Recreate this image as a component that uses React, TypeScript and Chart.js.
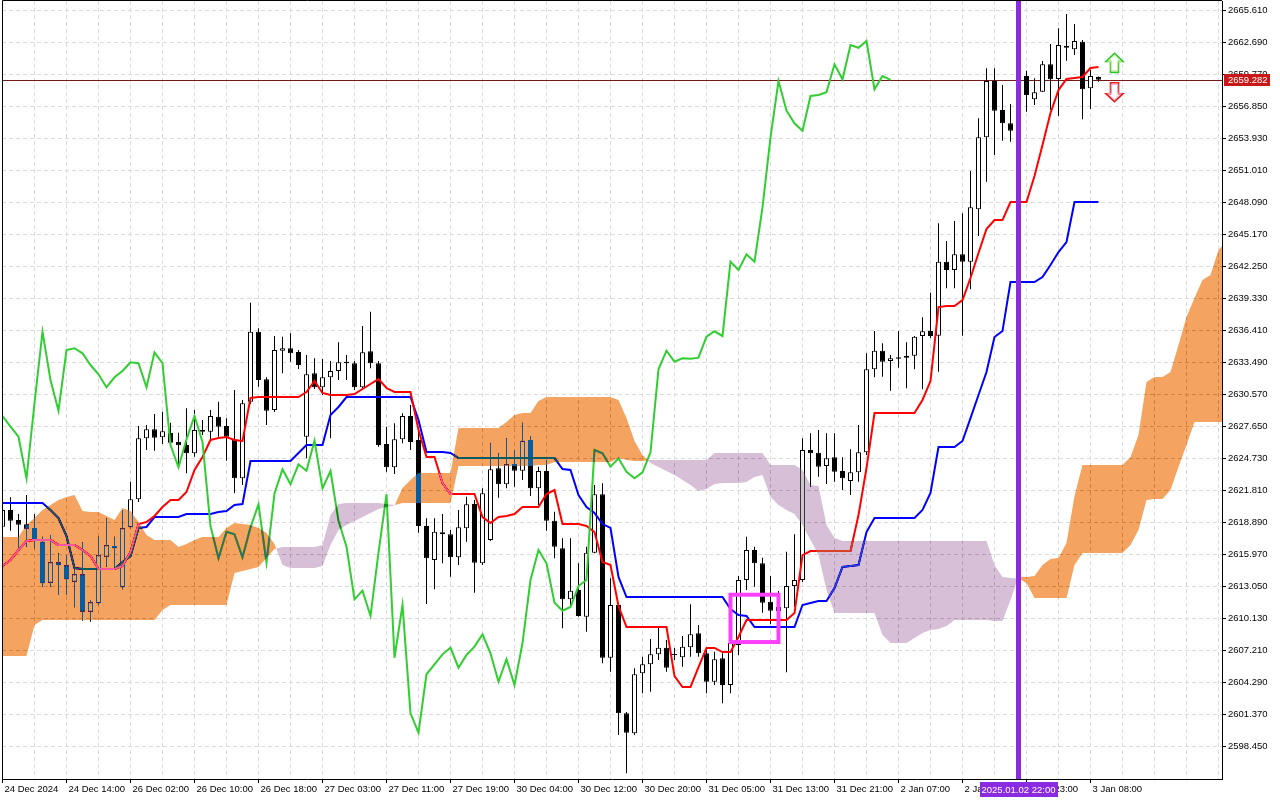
import React, { useEffect, useRef } from "react";
import { Chart, registerables } from "chart.js";

Chart.register(...registerables);

const FONT_FAMILY = '"Liberation Sans", Arial, sans-serif';
const FONT_SIZE = 9.5;

// ---- time axis labels (one every 8 bars) ----
const timeLabels = [
  "24 Dec 2024", "24 Dec 14:00", "26 Dec 02:00", "26 Dec 10:00", "26 Dec 18:00", "27 Dec 03:00",
  "27 Dec 11:00", "27 Dec 19:00", "30 Dec 04:00", "30 Dec 12:00", "30 Dec 20:00", "31 Dec 05:00",
  "31 Dec 13:00", "31 Dec 21:00", "2 Jan 07:00", "2 Jan 15:00", "2 Jan 23:00", "3 Jan 08:00",
];

// ---- price axis labels ----
const priceTicks = [
  2598.45, 2601.37, 2604.29, 2607.21, 2610.13, 2613.05, 2615.97, 2618.89, 2621.81, 2624.73, 2627.65, 2630.57,
  2633.49, 2636.41, 2639.33, 2642.25, 2645.17, 2648.09, 2651.01, 2653.93, 2656.85, 2659.77, 2662.69, 2665.61,
];

// ---- candles (H1) ----
const opens = [
  2618.51, 2620.03, 2619.12, 2618.72, 2618.39, 2617.14, 2613.40, 2615.26, 2614.98, 2613.49,
  2614.16, 2610.75, 2611.52, 2615.77, 2616.74, 2612.98, 2618.45, 2621.01, 2626.57, 2627.39,
  2626.66, 2627.08, 2626.23, 2625.96, 2625.20, 2627.33, 2627.17, 2628.54, 2627.69, 2626.48,
  2622.92, 2629.91, 2636.30, 2631.96, 2629.15, 2634.57, 2634.79, 2634.45, 2626.72, 2632.50,
  2631.23, 2632.14, 2632.71, 2633.56, 2633.42, 2631.23, 2634.51, 2633.42, 2626.05, 2623.93,
  2626.48, 2628.61, 2626.42, 2618.57, 2615.47, 2617.99, 2617.81, 2615.71, 2618.36, 2620.58,
  2615.17, 2617.29, 2623.83, 2622.38, 2624.23, 2623.62, 2626.42, 2622.01, 2623.59, 2619.05,
  2616.53, 2611.88, 2612.73, 2610.29, 2616.13, 2621.46, 2606.55, 2611.36, 2601.48, 2599.65,
  2605.13, 2605.95, 2606.86, 2607.46, 2606.89, 2606.59, 2607.50, 2608.78, 2606.95, 2604.36,
  2606.50, 2604.06, 2607.71, 2613.64, 2616.38, 2615.17, 2611.66, 2610.81, 2611.06, 2613.09,
  2613.64, 2625.50, 2625.26, 2624.04, 2624.84, 2623.59, 2622.68, 2623.47, 2625.30, 2632.87,
  2634.57, 2633.63, 2633.96, 2634.08, 2634.11, 2635.91, 2636.36, 2635.93, 2642.69, 2641.93,
  2643.36, 2642.69, 2647.47, 2654.04, 2659.18, 2656.53, 2655.32, 2654.70, 2659.63, 2657.51,
  2658.20, 2660.70, 2659.36, 2662.37, 2662.07, 2662.76, 2658.51, 2659.54,
];
const highs = [
  2620.94, 2621.19, 2619.66, 2621.40, 2619.66, 2617.59, 2617.75, 2616.08, 2615.92, 2614.92,
  2617.08, 2611.82, 2617.59, 2619.27, 2617.59, 2620.03, 2622.61, 2627.69, 2627.79, 2628.79,
  2629.00, 2628.00, 2627.08, 2629.31, 2629.15, 2628.24, 2629.15, 2629.91, 2628.40, 2630.98,
  2630.07, 2638.95, 2636.61, 2632.14, 2635.91, 2635.84, 2636.15, 2634.63, 2634.17, 2633.87,
  2633.81, 2633.63, 2635.33, 2634.17, 2633.63, 2636.82, 2638.12, 2633.63, 2627.63, 2627.94,
  2628.85, 2629.61, 2627.17, 2619.27, 2619.27, 2619.66, 2618.20, 2620.03, 2621.24, 2620.94,
  2622.01, 2626.12, 2625.20, 2626.57, 2625.50, 2628.00, 2626.78, 2623.98, 2624.59, 2619.87,
  2617.45, 2617.45, 2615.17, 2616.68, 2622.31, 2622.47, 2613.80, 2611.52, 2601.60, 2605.59,
  2606.64, 2608.26, 2609.38, 2608.17, 2607.44, 2608.53, 2611.43, 2609.54, 2607.25, 2607.10,
  2606.95, 2608.01, 2614.01, 2617.59, 2616.68, 2615.68, 2614.01, 2612.64, 2616.22, 2617.81,
  2626.57, 2627.03, 2627.33, 2627.03, 2627.03, 2624.84, 2625.57, 2627.79, 2634.33, 2636.36,
  2635.24, 2634.17, 2636.36, 2635.33, 2635.91, 2637.61, 2639.86, 2646.19, 2644.58, 2646.40,
  2647.10, 2650.96, 2655.77, 2660.33, 2660.33, 2658.81, 2657.08, 2658.17, 2660.12, 2659.42,
  2661.00, 2662.55, 2663.98, 2665.29, 2664.38, 2662.92, 2660.18, 2659.59,
];
const lows = [
  2617.93, 2618.14, 2616.22, 2616.68, 2616.53, 2613.03, 2613.03, 2612.27, 2612.27, 2611.15,
  2609.93, 2609.84, 2611.36, 2614.86, 2614.71, 2612.79, 2618.36, 2620.76, 2625.50, 2625.44,
  2626.05, 2626.05, 2623.93, 2623.38, 2624.89, 2626.87, 2626.42, 2626.72, 2624.53, 2621.55,
  2622.31, 2629.70, 2631.28, 2627.79, 2628.97, 2632.50, 2633.56, 2632.90, 2624.75, 2631.07,
  2630.52, 2626.57, 2631.89, 2631.89, 2630.98, 2630.98, 2632.96, 2625.81, 2623.52, 2623.31,
  2626.12, 2625.50, 2617.96, 2611.45, 2612.79, 2615.17, 2613.94, 2615.01, 2617.14, 2612.48,
  2615.01, 2617.20, 2621.15, 2622.01, 2622.16, 2622.77, 2621.31, 2620.49, 2618.14, 2615.62,
  2609.23, 2611.21, 2610.29, 2608.92, 2616.08, 2606.04, 2605.27, 2599.50, 2596.00, 2599.50,
  2603.30, 2603.45, 2606.34, 2605.27, 2606.34, 2605.73, 2606.64, 2606.64, 2603.30, 2604.06,
  2602.39, 2603.30, 2606.80, 2612.73, 2613.03, 2610.66, 2609.63, 2610.45, 2605.22, 2611.21,
  2613.46, 2622.16, 2623.07, 2622.40, 2622.61, 2621.85, 2621.40, 2622.61, 2625.05, 2632.14,
  2632.19, 2630.92, 2633.01, 2631.13, 2632.87, 2631.04, 2635.72, 2632.65, 2640.26, 2640.26,
  2635.93, 2640.17, 2645.03, 2649.99, 2652.42, 2653.73, 2653.64, 2653.79, 2656.37, 2656.99,
  2658.17, 2656.53, 2655.98, 2661.03, 2661.55, 2655.68, 2656.62, 2659.11,
];
const closes = [
  2620.03, 2619.05, 2618.69, 2618.32, 2617.29, 2613.34, 2615.26, 2614.98, 2613.71, 2614.16,
  2610.75, 2611.61, 2615.90, 2616.81, 2616.53, 2618.36, 2621.01, 2626.57, 2627.39, 2626.63,
  2627.21, 2626.17, 2625.93, 2625.20, 2627.33, 2627.17, 2628.61, 2627.63, 2626.72, 2622.92,
  2629.77, 2636.30, 2631.89, 2629.09, 2634.63, 2634.79, 2634.33, 2633.26, 2632.41, 2631.23,
  2632.14, 2632.71, 2633.51, 2633.42, 2631.23, 2634.42, 2633.42, 2625.96, 2623.93, 2626.48,
  2628.61, 2626.23, 2618.57, 2615.62, 2618.05, 2617.81, 2615.71, 2618.45, 2620.55, 2615.22,
  2621.55, 2623.74, 2622.38, 2624.20, 2623.62, 2626.35, 2622.01, 2623.59, 2619.05, 2616.68,
  2611.88, 2612.67, 2610.36, 2616.13, 2621.46, 2606.55, 2611.36, 2601.48, 2599.71, 2605.04,
  2605.95, 2606.86, 2607.46, 2605.64, 2606.80, 2607.56, 2608.69, 2606.95, 2604.36, 2606.41,
  2604.06, 2607.89, 2613.64, 2616.38, 2615.17, 2611.57, 2610.84, 2611.18, 2613.09, 2613.64,
  2625.50, 2625.20, 2623.98, 2624.75, 2623.52, 2622.92, 2623.47, 2625.30, 2632.87, 2634.57,
  2633.56, 2633.87, 2633.84, 2633.93, 2635.84, 2636.34, 2635.91, 2642.69, 2641.93, 2643.36,
  2642.69, 2647.65, 2654.04, 2659.18, 2656.47, 2655.32, 2654.64, 2657.81, 2657.90, 2658.15,
  2660.70, 2659.33, 2662.46, 2662.21, 2662.83, 2658.42, 2659.63, 2659.28,
];

// ---- Ichimoku lines ----
const tenkan = [
  2614.92, 2615.47, 2616.38, 2617.20, 2617.29, 2617.29, 2617.29, 2616.84, 2616.84, 2616.84,
  2616.38, 2615.83, 2614.65, 2614.65, 2614.65, 2614.92, 2616.20, 2618.75, 2618.93, 2619.48,
  2620.30, 2620.94, 2620.94, 2621.67, 2623.68, 2624.87, 2626.42, 2626.60, 2626.69, 2626.42,
  2626.33, 2630.25, 2630.34, 2630.34, 2630.34, 2630.34, 2630.34, 2630.34, 2630.80, 2631.80,
  2630.71, 2630.52, 2630.52, 2630.52, 2630.61, 2631.07, 2631.53, 2631.98, 2631.16, 2630.80,
  2630.80, 2630.80, 2627.33, 2624.87, 2624.87, 2622.49, 2621.49, 2621.49, 2621.49, 2621.49,
  2619.39, 2618.84, 2619.39, 2619.48, 2619.66, 2620.30, 2620.30, 2620.30, 2621.49, 2621.85,
  2618.75, 2618.75, 2618.75, 2618.57, 2618.02, 2615.28, 2615.01, 2611.27, 2609.35, 2609.35,
  2609.35, 2609.35, 2609.35, 2609.35, 2604.88, 2603.88, 2603.88, 2605.70, 2607.44, 2607.44,
  2607.07, 2607.07, 2608.44, 2609.99, 2609.99, 2609.99, 2609.99, 2609.99, 2609.99, 2610.63,
  2615.92, 2616.29, 2616.29, 2616.29, 2616.29, 2616.29, 2616.29, 2619.57, 2623.86, 2628.88,
  2628.88, 2628.88, 2628.88, 2628.88, 2628.88, 2630.07, 2631.80, 2638.55, 2638.64, 2638.64,
  2639.19, 2641.20, 2643.48, 2645.67, 2646.49, 2646.49, 2648.13, 2648.13, 2648.13, 2650.51,
  2653.34, 2656.26, 2658.35, 2659.36, 2659.45, 2659.54, 2660.36, 2660.45,
];
const kijun = [
  2620.67, 2620.67, 2620.67, 2620.67, 2620.67, 2620.67, 2620.03, 2619.30, 2617.66, 2614.74,
  2614.65, 2614.65, 2614.65, 2614.65, 2614.65, 2615.28, 2615.83, 2618.39, 2618.48, 2619.39,
  2619.39, 2619.39, 2619.39, 2619.66, 2619.66, 2619.66, 2619.66, 2619.85, 2619.94, 2620.49,
  2620.58, 2624.50, 2624.50, 2624.50, 2624.50, 2624.50, 2624.50, 2625.23, 2625.96, 2625.96,
  2625.96, 2628.70, 2629.43, 2630.34, 2630.34, 2630.34, 2630.34, 2630.34, 2630.34, 2630.34,
  2630.34, 2630.34, 2628.24, 2625.32, 2625.32, 2625.32, 2625.23, 2624.77, 2624.77, 2624.77,
  2624.77, 2624.77, 2624.77, 2624.77, 2624.77, 2624.77, 2624.77, 2624.77, 2624.77, 2624.77,
  2623.77, 2623.68, 2621.40, 2620.30, 2619.76, 2618.75, 2618.39, 2613.92, 2612.09, 2612.09,
  2612.09, 2612.09, 2612.09, 2612.09, 2612.09, 2612.09, 2612.09, 2612.09, 2612.09, 2612.09,
  2612.09, 2611.00, 2610.45, 2610.36, 2609.35, 2609.35, 2609.35, 2609.35, 2609.35, 2609.35,
  2611.36, 2611.54, 2611.73, 2611.73, 2612.91, 2614.83, 2614.92, 2615.01, 2618.02, 2619.30,
  2619.30, 2619.30, 2619.30, 2619.30, 2619.30, 2620.03, 2621.58, 2625.78, 2625.78, 2625.78,
  2626.33, 2628.42, 2630.52, 2632.62, 2635.82, 2636.36, 2640.83, 2640.83, 2640.83, 2640.83,
  2641.29, 2642.39, 2643.57, 2644.48, 2648.13, 2648.13, 2648.13, 2648.13,
];
const senkouA = [
  2617.57, 2617.57, 2617.57, 2618.66, 2619.30, 2620.03, 2620.49, 2620.94, 2621.22, 2621.40,
  2619.94, 2619.85, 2619.85, 2619.48, 2619.12, 2620.21, 2619.94, 2618.93, 2617.75, 2617.29,
  2617.29, 2617.29, 2616.65, 2616.93, 2617.29, 2617.57, 2617.57, 2617.57, 2618.39, 2618.84,
  2618.75, 2618.66, 2618.39, 2617.93, 2616.93, 2615.01, 2614.74, 2614.74, 2614.74, 2614.74,
  2614.92, 2616.84, 2618.20, 2618.66, 2619.03, 2619.39, 2619.76, 2620.12, 2620.30, 2620.44,
  2622.04, 2622.77, 2623.41, 2623.41, 2623.41, 2623.41, 2623.41, 2627.51, 2627.51, 2627.51,
  2627.51, 2627.51, 2627.51, 2628.06, 2628.70, 2628.88, 2628.88, 2629.98, 2630.34, 2630.34,
  2630.34, 2630.34, 2630.34, 2630.34, 2630.34, 2630.34, 2630.34, 2630.07, 2628.42, 2626.33,
  2625.05, 2624.32, 2623.95, 2623.59, 2623.22, 2622.77, 2622.31, 2621.76, 2621.95, 2622.40,
  2622.49, 2622.49, 2622.49, 2622.58, 2623.04, 2623.22, 2621.22, 2620.49, 2620.03, 2619.66,
  2618.66, 2617.29, 2615.92, 2612.73, 2610.63, 2610.63, 2610.63, 2610.63, 2610.63, 2610.63,
  2608.62, 2607.89, 2607.89, 2607.89, 2608.35, 2608.81, 2609.08, 2609.17, 2609.44, 2609.99,
  2609.99, 2609.99, 2609.99, 2609.99, 2609.90, 2609.90, 2611.82, 2613.96, 2613.92, 2614.01,
  2615.01, 2615.56, 2615.65, 2617.02, 2621.31, 2624.14, 2624.14, 2624.14, 2624.14, 2624.14,
  2624.14, 2624.87, 2626.87, 2631.71, 2632.17, 2632.17, 2632.62, 2635.09, 2637.64, 2639.37,
  2641.02, 2641.47, 2643.75, 2644.60,
];
const senkouB = [
  2606.71, 2606.71, 2606.71, 2606.71, 2609.54, 2609.99, 2609.99, 2609.99, 2609.99, 2609.99,
  2609.99, 2609.99, 2609.99, 2609.99, 2609.99, 2609.99, 2609.99, 2609.99, 2609.99, 2609.99,
  2610.90, 2611.36, 2611.36, 2611.36, 2611.36, 2611.36, 2611.36, 2611.36, 2611.36, 2614.28,
  2614.46, 2614.65, 2614.83, 2615.65, 2616.47, 2616.65, 2616.65, 2616.65, 2616.65, 2616.65,
  2616.84, 2619.57, 2620.58, 2620.67, 2620.67, 2620.67, 2620.67, 2620.67, 2620.58, 2620.49,
  2620.67, 2620.67, 2620.67, 2620.67, 2620.67, 2620.67, 2620.67, 2624.04, 2624.04, 2624.04,
  2624.04, 2624.04, 2624.04, 2624.04, 2624.04, 2624.04, 2624.04, 2624.14, 2624.14, 2624.41,
  2624.41, 2624.41, 2624.41, 2624.41, 2624.41, 2624.41, 2624.41, 2624.77, 2624.59, 2624.50,
  2624.50, 2624.59, 2624.59, 2624.59, 2624.59, 2624.59, 2624.59, 2624.59, 2624.59, 2625.23,
  2625.23, 2625.23, 2625.23, 2625.23, 2625.23, 2625.23, 2624.14, 2624.14, 2624.14, 2624.14,
  2623.68, 2622.31, 2622.22, 2618.66, 2617.47, 2617.20, 2617.20, 2617.20, 2617.20, 2617.20,
  2617.20, 2617.20, 2617.20, 2617.20, 2617.20, 2617.20, 2617.20, 2617.20, 2617.20, 2617.20,
  2617.20, 2617.20, 2617.20, 2617.20, 2615.01, 2613.92, 2613.82, 2613.78, 2613.37, 2612.00,
  2612.00, 2612.00, 2612.00, 2612.00, 2615.01, 2616.11, 2616.11, 2616.11, 2616.11, 2616.11,
  2616.11, 2616.84, 2618.20, 2620.94, 2621.03, 2621.03, 2621.85, 2623.95, 2625.96, 2628.06,
  2628.06, 2628.06, 2628.06, 2628.06,
];
const CHIKOU_SHIFT = 26;

// ---- annotations ----
const currentPrice = 2659.282;
const markerBar = 127;
const markerLabel = "2025.01.02 22:00";
const boxBars = [91, 97];
const boxPrices = [2612.3, 2607.98];
const arrowBar = 139;
const upArrowPrice = 2661.7;
const downArrowPrice = 2657.29;

// ---- view window ----
const X_MIN = -0.0625;
const X_MAX = 152.4375;
const Y_MIN = 2595.484;
const Y_MAX = 2666.477;

const FONT = `${FONT_SIZE}px ${FONT_FAMILY}`;

function drawArrow(ctx: CanvasRenderingContext2D, cx: number, tipY: number, dir: number, stroke: string, inner: string) {
  const pts = [[0, 0], [8.5, 8], [4, 8], [4, 19], [-4, 19], [-4, 8], [-8.5, 8]];
  const path = (inset: number) => {
    ctx.beginPath();
    pts.forEach(([px, py], k) => {
      const X = cx + px * (1 - inset);
      const Y = tipY + dir * (py * (1 - inset) + inset * 10);
      if (k) ctx.lineTo(X, Y);
      else ctx.moveTo(X, Y);
    });
    ctx.closePath();
  };
  path(0);
  ctx.fillStyle = "#ffffff";
  ctx.fill();
  ctx.lineWidth = 1.6;
  ctx.strokeStyle = stroke;
  ctx.stroke();
  path(0.18);
  ctx.lineWidth = 1;
  ctx.strokeStyle = inner;
  ctx.stroke();
}

const overlayPlugin = {
  id: "mtOverlay",
  beforeDraw(chart: any) {
    const { ctx, width, height } = chart;
    ctx.save();
    ctx.fillStyle = "#ffffff";
    ctx.fillRect(0, 0, width, height);
    ctx.restore();
  },
  beforeDatasetsDraw(chart: any) {
    const { ctx, chartArea: a, scales } = chart;
    const py = Math.round(scales.y.getPixelForValue(currentPrice)) + 0.5;
    ctx.save();
    ctx.strokeStyle = "rgb(120,24,24)";
    ctx.lineWidth = 1;
    ctx.beginPath();
    ctx.moveTo(a.left, py);
    ctx.lineTo(a.right, py);
    ctx.stroke();
    ctx.restore();
  },
  afterDatasetsDraw(chart: any) {
    const { ctx, chartArea: a, scales } = chart;
    const xs = scales.x;
    const ys = scales.y;
    ctx.save();
    ctx.beginPath();
    ctx.rect(a.left, a.top, a.right - a.left, a.bottom - a.top);
    ctx.clip();

    // Kumo, drawn in "difference" mode like the MT5 XOR fill
    ctx.globalCompositeOperation = "difference";
    const fillRun = (pa: number[][], pb: number[][], sign: number) => {
      ctx.fillStyle = sign > 0 ? "rgb(11,91,159)" : "rgb(39,64,39)";
      ctx.beginPath();
      pa.forEach((p, k) => {
        const X = xs.getPixelForValue(p[0]);
        const Y = ys.getPixelForValue(p[1]);
        if (k) ctx.lineTo(X, Y);
        else ctx.moveTo(X, Y);
      });
      for (let k = pb.length - 1; k >= 0; k--) {
        ctx.lineTo(xs.getPixelForValue(pb[k][0]), ys.getPixelForValue(pb[k][1]));
      }
      ctx.closePath();
      ctx.fill();
    };
    const n = Math.min(senkouA.length, senkouB.length);
    let sign = senkouA[0] >= senkouB[0] ? 1 : -1;
    let pa: number[][] = [[0, senkouA[0]]];
    let pb: number[][] = [[0, senkouB[0]]];
    for (let i = 1; i < n; i++) {
      const s = senkouA[i] >= senkouB[i] ? 1 : -1;
      if (s !== sign) {
        const d0 = senkouA[i - 1] - senkouB[i - 1];
        const d1 = senkouA[i] - senkouB[i];
        const t = d0 / (d0 - d1);
        const cx = i - 1 + t;
        const cy = senkouA[i - 1] + t * (senkouA[i] - senkouA[i - 1]);
        pa.push([cx, cy]);
        pb.push([cx, cy]);
        fillRun(pa, pb, sign);
        pa = [[cx, cy]];
        pb = [[cx, cy]];
        sign = s;
      }
      pa.push([i, senkouA[i]]);
      pb.push([i, senkouB[i]]);
    }
    fillRun(pa, pb, sign);
    ctx.globalCompositeOperation = "source-over";

    // vertical marker line
    const mx = xs.getPixelForValue(markerBar);
    ctx.strokeStyle = "#8a2be2";
    ctx.lineWidth = 5;
    ctx.beginPath();
    ctx.moveTo(mx, a.top);
    ctx.lineTo(mx, a.bottom);
    ctx.stroke();

    // rectangle object
    const bx1 = xs.getPixelForValue(boxBars[0]);
    const bx2 = xs.getPixelForValue(boxBars[1]);
    const by1 = ys.getPixelForValue(boxPrices[0]);
    const by2 = ys.getPixelForValue(boxPrices[1]);
    ctx.strokeStyle = "rgb(250,64,250)";
    ctx.lineWidth = 4;
    ctx.strokeRect(bx1, by1, bx2 - bx1, by2 - by1);

    // signal arrows
    const ax = xs.getPixelForValue(arrowBar);
    drawArrow(ctx, ax, ys.getPixelForValue(upArrowPrice), 1, "#2fc42f", "#c8f08c");
    drawArrow(ctx, ax, ys.getPixelForValue(downArrowPrice), -1, "#ee1c1c", "#f8a0c0");
    ctx.restore();
  },
  afterDraw(chart: any) {
    const { ctx, chartArea: a, scales } = chart;
    ctx.save();
    // frame
    ctx.strokeStyle = "#000000";
    ctx.lineWidth = 1;
    ctx.beginPath();
    ctx.moveTo(a.left + 0.5, a.bottom);
    ctx.lineTo(a.left + 0.5, a.top - 0.5);
    ctx.lineTo(a.right, a.top - 0.5);
    ctx.stroke();

    ctx.font = FONT;
    ctx.textBaseline = "middle";
    // current price label
    const py = Math.round(scales.y.getPixelForValue(currentPrice));
    ctx.fillStyle = "#c81818";
    ctx.fillRect(a.right + 2, py - 6, 46, 12);
    ctx.fillStyle = "#ffffff";
    ctx.textAlign = "left";
    ctx.fillText(currentPrice.toFixed(3), a.right + 6, py + 0.5);

    // marker time label
    const mx = scales.x.getPixelForValue(markerBar);
    const w = Math.round(ctx.measureText(markerLabel).width + 4);
    ctx.fillStyle = "#8a2be2";
    ctx.fillRect(Math.round(mx - w / 2), a.bottom + 3, w, 15);
    ctx.fillStyle = "#ffffff";
    ctx.textAlign = "center";
    ctx.fillText(markerLabel, mx, a.bottom + 11);
    ctx.restore();
  },
};

export default function App() {
  const ref = useRef<HTMLCanvasElement>(null);

  useEffect(() => {
    document.body.style.margin = "0";
    const canvas = ref.current;
    if (!canvas) return;

    const bullish = (i: number) => closes[i] >= opens[i];

    const chart = new Chart(canvas, {
      type: "line",
      data: {
        datasets: [
          {
            type: "line",
            label: "Chikou Span",
            data: closes.slice(CHIKOU_SHIFT).map((c, k) => ({ x: k, y: c })),
            borderColor: "#32cd32",
            borderWidth: 2,
            pointRadius: 0,
            tension: 0,
            order: 1,
          },
          {
            type: "line",
            label: "Tenkan-sen",
            data: tenkan.map((v, i) => ({ x: i, y: v })),
            borderColor: "#ff0000",
            borderWidth: 2,
            pointRadius: 0,
            tension: 0,
            order: 2,
          },
          {
            type: "line",
            label: "Kijun-sen",
            data: kijun.map((v, i) => ({ x: i, y: v })),
            borderColor: "#0000ff",
            borderWidth: 2,
            pointRadius: 0,
            tension: 0,
            order: 3,
          },
          {
            type: "bar",
            label: "Body",
            data: opens.map((o, i) => ({ x: i, y: [o, closes[i]] })) as any,
            backgroundColor: (c: any) => (bullish(c.dataIndex) ? "#ffffff" : "#000000"),
            borderColor: "#000000",
            borderWidth: 1,
            borderSkipped: false,
            maxBarThickness: 5,
            grouped: false,
            inflateAmount: 0,
            order: 4,
          } as any,
          {
            type: "bar",
            label: "Wick",
            data: highs.map((h, i) => ({ x: i, y: [lows[i], h] })) as any,
            backgroundColor: "#000000",
            borderWidth: 0,
            maxBarThickness: 1,
            grouped: false,
            inflateAmount: 0,
            order: 5,
          } as any,
        ],
      },
      options: {
        animation: false,
        responsive: false,
        maintainAspectRatio: false,
        devicePixelRatio: 1,
        events: [],
        layout: { padding: { left: 2, top: 1, right: 0, bottom: 0 }, autoPadding: false } as any,
        plugins: { legend: { display: false }, tooltip: { enabled: false } },
        scales: {
          x: {
            type: "linear",
            position: "bottom",
            min: X_MIN,
            max: X_MAX,
            offset: false,
            afterBuildTicks: (scale: any) => {
              const t = [];
              for (let v = 0; v <= X_MAX; v += 4) t.push({ value: v });
              scale.ticks = t;
            },
            afterFit: (scale: any) => {
              scale.height = 21;
              scale.paddingLeft = 0;
              scale.paddingRight = 0;
            },
            grid: {
              color: "#dcdcdc",
              offset: false,
              tickLength: 4,
              tickColor: (c: any) => {
                const v = c.tick ? c.tick.value : -1;
                return v % 8 === 0 && v / 8 < timeLabels.length ? "#000000" : "rgba(0,0,0,0)";
              },
            },
            border: { display: true, color: "#000000", width: 1, dash: [4, 3] },
            ticks: {
              autoSkip: false,
              maxRotation: 0,
              minRotation: 0,
              align: "start",
              labelOffset: 2,
              padding: 1,
              color: "#000000",
              font: { family: FONT_FAMILY, size: FONT_SIZE },
              callback: (v: any) => {
                const n = Number(v);
                return n % 8 === 0 && timeLabels[n / 8] ? timeLabels[n / 8] : "";
              },
            },
          } as any,
          y: {
            type: "linear",
            position: "right",
            min: Y_MIN,
            max: Y_MAX,
            afterBuildTicks: (scale: any) => {
              scale.ticks = priceTicks.map((v) => ({ value: v }));
            },
            afterFit: (scale: any) => {
              scale.width = 58;
              scale.paddingTop = 0;
              scale.paddingBottom = 0;
            },
            grid: { color: "#dcdcdc", tickLength: 4, tickColor: "#000000" },
            border: { display: true, color: "#000000", width: 1, dash: [4, 3] },
            ticks: {
              padding: 2,
              color: "#000000",
              font: { family: FONT_FAMILY, size: FONT_SIZE },
              callback: (v: any) => Number(v).toFixed(3),
            },
          } as any,
        },
      },
      plugins: [overlayPlugin as any],
    } as any);

    return () => chart.destroy();
  }, []);

  return (
    <div style={{ position: "absolute", left: 0, top: 0, width: 1280, height: 800, background: "#ffffff" }}>
      <canvas ref={ref} width={1280} height={800} style={{ display: "block", width: 1280, height: 800 }} />
    </div>
  );
}
